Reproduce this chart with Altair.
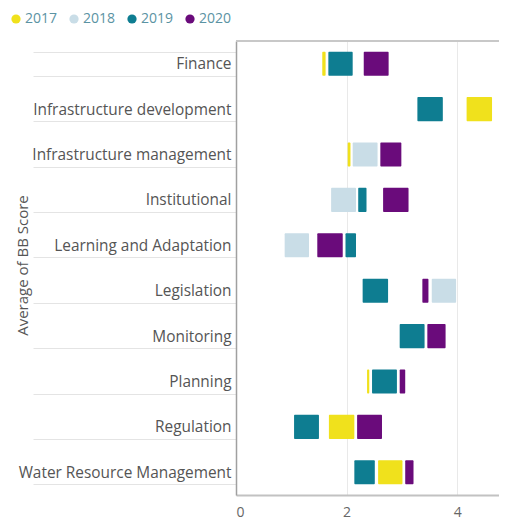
import altair as alt
import pandas as pd

categories = ["Finance", "Infrastructure development", "Infrastructure management",
              "Institutional", "Learning and Adaptation", "Legislation", "Monitoring",
              "Planning", "Regulation", "Water Resource Management"]
years = ["2017", "2018", "2019", "2020"]
colors = ["#F0E11C", "#C9DDE7", "#0E7D91", "#6A0B7B"]

seg_category = ["Finance", "Finance", "Finance",
                "Infrastructure development", "Infrastructure development",
                "Infrastructure management", "Infrastructure management", "Infrastructure management",
                "Institutional", "Institutional", "Institutional",
                "Learning and Adaptation", "Learning and Adaptation", "Learning and Adaptation",
                "Legislation", "Legislation", "Legislation",
                "Monitoring", "Monitoring",
                "Planning", "Planning", "Planning",
                "Regulation", "Regulation", "Regulation",
                "Water Resource Management", "Water Resource Management", "Water Resource Management"]
seg_year = ["2017", "2019", "2020",
            "2019", "2017",
            "2017", "2018", "2020",
            "2018", "2019", "2020",
            "2018", "2020", "2019",
            "2019", "2020", "2018",
            "2019", "2020",
            "2017", "2019", "2020",
            "2019", "2017", "2020",
            "2019", "2017", "2020"]
seg_start = [1.56, 1.67, 2.31,
             3.28, 4.17,
             2.02, 2.11, 2.61,
             1.72, 2.21, 2.66,
             0.88, 1.47, 1.98,
             2.29, 3.37, 3.54,
             2.96, 3.46,
             2.37, 2.46, 2.96,
             1.05, 1.68, 2.19,
             2.14, 2.57, 3.06]
seg_end = [1.62, 2.11, 2.76,
           3.74, 4.63,
           2.07, 2.56, 2.99,
           2.17, 2.36, 3.12,
           1.32, 1.93, 2.17,
           2.75, 3.48, 3.98,
           3.41, 3.79,
           2.41, 2.91, 3.06,
           1.50, 2.14, 2.64,
           2.51, 3.01, 3.21]

x_ticks = [0, 2, 4]

df = pd.DataFrame({"Category": seg_category, "Year": seg_year,
                   "Start": seg_start, "End": seg_end})

PX_PER_UNIT = 55.3
W = 263
H = 454
FONT = "Open Sans"

bars = alt.Chart(df).mark_bar(cornerRadius=1).encode(
    x=alt.X("Start:Q",
            scale=alt.Scale(domain=[0, W / PX_PER_UNIT], nice=False, zero=True),
            axis=alt.Axis(title=None, values=x_ticks, grid=True, gridColor="#e9e9e9",
                          gridWidth=1, domainColor="#c2c2c2", domainWidth=2, ticks=False,
                          labelPadding=10, labelFontSize=14, labelColor="#666666",
                          labelFont=FONT)),
    x2="End:Q",
    y=alt.Y("Category:N", sort=categories,
            scale=alt.Scale(paddingInner=0.47, paddingOuter=0.235),
            axis=alt.Axis(title="Average of BB Score", tickBand="extent", tickSize=203,
                          tickColor="#e4e4e4", tickWidth=1, labelPadding=-198,
                          labelFontSize=15.4, labelColor="#555555", labelFont=FONT,
                          labelLimit=0,
                          domainColor="#a0a0a0", domainWidth=1.5,
                          titleFont=FONT, titleFontSize=15, titleFontWeight="normal",
                          titleColor="#555555", titleX=-214, titleY=H / 2 - 3,
                          titleBaseline="middle", titleAngle=270)),
    color=alt.Color("Year:N", scale=alt.Scale(domain=years, range=colors),
                    legend=alt.Legend(title=None, orient="none", direction="horizontal",
                                      legendX=-227, legendY=-29, symbolType="circle",
                                      symbolSize=85, symbolStrokeWidth=0,
                                      labelFontSize=14, labelColor="#5b93a3",
                                      labelFont=FONT, columnPadding=9, labelOffset=2)),
)

top_line = alt.Chart(df).mark_rule(color="#c8c8c8", strokeWidth=2).encode(
    x=alt.value(0), x2=alt.value(W), y=alt.value(0)
)

chart = alt.layer(bars, top_line).properties(
    width=W, height=H,
    autosize=alt.AutoSizeParams(type="none"),
    padding={"left": 228, "top": 33, "right": 0, "bottom": 27},
).configure_view(stroke=None)

chart.save("out.html", embed_options={"renderer": "svg", "actions": False})
